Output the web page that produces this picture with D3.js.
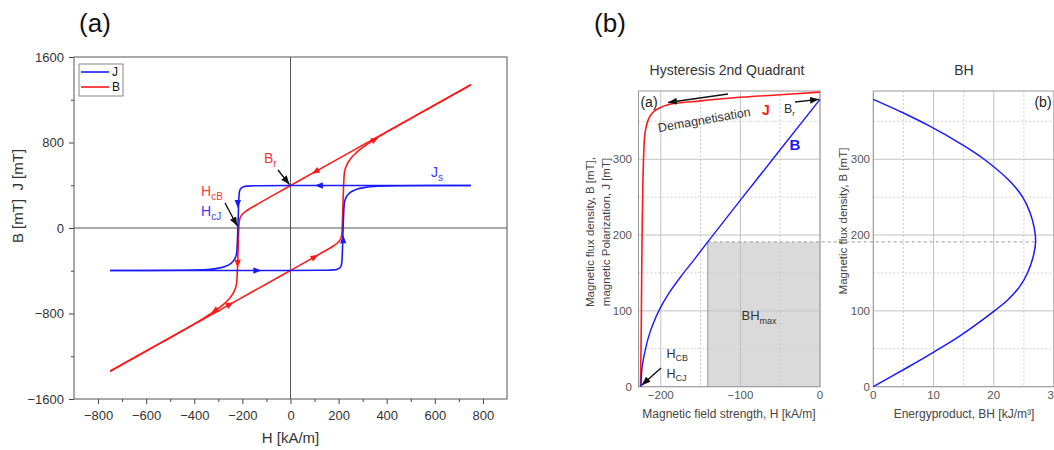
<!DOCTYPE html>
<html>
<head>
<meta charset="utf-8">
<script src="https://cdn.jsdelivr.net/npm/d3@7"></script>
<style>
  body { margin: 0; background: #fff; }
  text { font-family: Arial, "Liberation Sans", sans-serif; }
</style>
</head>
<body>
<svg id="chart" width="1054" height="450"></svg>
<script>
// ---------- data ----------
// (a) full loop, descending branch (H in kA/m, J and B in mT)
const hDown = [750, 300, 0, -150, -180, -195, -205, -211, -214, -216, -218, -220, -222, -224, -228, -235, -250, -275, -310, -360, -450, -600, -750];
const jDown = [398, 398, 397, 395, 392, 385, 372, 350, 305, 200, 50, -80, -180, -235, -270, -300, -335, -362, -380, -391, -396, -397, -398];
const bDown = [1340, 775, 397, 206, 166, 140, 114, 85, 36, -71, -224, -356, -459, -516, -556, -595, -649, -708, -769, -843, -961, -1151, -1340];
// ascending branch
const hUp = [-750, -300, 0, 150, 180, 195, 205, 211, 214, 216, 218, 220, 222, 224, 228, 235, 250, 275, 310, 360, 450, 600, 750];
const jUp = [-398, -398, -397, -395, -392, -385, -372, -350, -305, -200, -50, 80, 180, 235, 270, 300, 335, 362, 380, 391, 396, 397, 398];
const bUp = [-1340, -775, -397, -206, -166, -140, -114, -85, -36, 71, 224, 356, 459, 516, 556, 595, 649, 708, 769, 843, 961, 1151, 1340];

// direction arrows on the loop: [H, value, dH, dValue]
const jArrows = [[120, 398, -1, 0], [-219, 230, 0, -1], [-140, -398, 1, 0], [219, -110, 0, 1]];
const bArrows = [[105, 529, -1, -1.26], [350, 828, 1, 1.26], [-219.7, -330, 0, -1], [-315, -776, -1, -1.5], [-253, -715, 1, 1.26], [100, -271, 1, 1.26]];

const hTicks = [-800, -600, -400, -200, 0, 200, 400, 600, 800];
const hMinor = [-700, -500, -300, -100, 100, 300, 500, 700];
const bTicks = [-1600, -800, 0, 800, 1600];
const bMinor = [-1200, -400, 400, 1200];

// (b) 2nd quadrant
const hJ2 = [0, -50, -108, -150, -192, -209, -215, -219.6, -221.5, -223.5, -224.5, -225.5];
const j2 = [388.5, 385, 381, 377, 371.6, 362.8, 354, 336, 305, 200, 80, 0];
const hB2 = [0, -100, -141, -160, -175, -190, -202.5, -210, -215, -220, -223.4, -225];
const b2 = [379, 246, 191, 165, 145, 123, 100, 82, 67, 46, 26, 0];
const bhMax = { h: -141, b: 191, bh: 26.95 };

// (b) energy product
const bhB = [0, 26, 46, 66, 100, 115, 132, 150, 170, 191, 210, 230, 250, 270, 300, 320, 344, 361, 379];
const bhVal = [0, 5.8, 10.1, 14.2, 20.1, 22.4, 24.3, 25.6, 26.5, 26.95, 26.7, 26.0, 24.8, 22.8, 18.4, 14.6, 9.3, 5, 0];

const h2Ticks = [-200, -100, 0];
const h2Minor = [-150, -50];
const b2Ticks = [0, 100, 200, 300];
const b2Minor = [50, 150, 250, 350];
const bhTicks = [0, 10, 20, 30];
const bhMinor = [5, 15, 25];

const RED = "#ff1a1a";
const BLUE = "#1a1aff";
const fmt = d3.format("");

const svg = d3.select("#chart");

// arrow marker for annotation arrows
svg.append("defs").append("marker")
  .attr("id", "head")
  .attr("markerUnits", "userSpaceOnUse")
  .attr("markerWidth", 9).attr("markerHeight", 7)
  .attr("refX", 9).attr("refY", 3.5)
  .attr("orient", "auto")
  .append("path").attr("d", "M0,0 L9,3.5 L0,7 Z").attr("fill", "#111");

function annArrow(g, x1, y1, x2, y2) {
  g.append("line")
    .attr("x1", x1).attr("y1", y1).attr("x2", x2).attr("y2", y2)
    .attr("stroke", "#111").attr("stroke-width", 1.4)
    .attr("marker-end", "url(#head)");
}

// text with a subscript
function subText(g, x, y, main, sub, color, size, subSize) {
  const t = g.append("text").attr("x", x).attr("y", y)
    .attr("font-size", size).attr("fill", color);
  t.append("tspan").text(main);
  t.append("tspan").attr("dy", size * 0.3).attr("font-size", subSize).text(sub);
  return t;
}

// ================= (a) full hysteresis loop =================
const xL = d3.scaleLinear().domain([-900, 900]).range([74, 507]);
const yL = d3.scaleLinear().domain([-1600, 1600]).range([399, 57]);
const gL = svg.append("g");

gL.append("text").attr("x", 95).attr("y", 32)
  .attr("text-anchor", "middle").attr("font-size", 26).attr("fill", "#111").text("(a)");

// zero lines
gL.append("line").attr("x1", xL(0)).attr("x2", xL(0)).attr("y1", yL(1600)).attr("y2", yL(-1600))
  .attr("stroke", "#555");
gL.append("line").attr("x1", xL(-900)).attr("x2", xL(900)).attr("y1", yL(0)).attr("y2", yL(0))
  .attr("stroke", "#555");

// axes
gL.append("g").attr("transform", `translate(0,${yL(-1600)})`)
  .call(d3.axisBottom(xL).tickValues(hTicks).tickFormat(fmt).tickSize(5).tickPadding(7).tickSizeOuter(0));
gL.append("g").attr("transform", `translate(0,${yL(-1600)})`)
  .call(d3.axisBottom(xL).tickValues(hMinor).tickSize(3).tickFormat("").tickSizeOuter(0));
gL.append("g").attr("transform", `translate(${xL(-900)},0)`)
  .call(d3.axisLeft(yL).tickValues(bTicks).tickFormat(fmt).tickSize(5).tickPadding(5).tickSizeOuter(0));
gL.append("g").attr("transform", `translate(${xL(-900)},0)`)
  .call(d3.axisLeft(yL).tickValues(bMinor).tickSize(3).tickFormat("").tickSizeOuter(0));
gL.selectAll(".domain").remove();
gL.selectAll(".tick line").attr("stroke", "#444");
gL.selectAll(".tick text").attr("font-size", 13).attr("fill", "#333")
  .attr("font-family", "Arial, 'Liberation Sans', sans-serif");

// frame
gL.append("rect").attr("x", xL(-900)).attr("y", yL(1600))
  .attr("width", xL(900) - xL(-900)).attr("height", yL(-1600) - yL(1600))
  .attr("fill", "none").attr("stroke", "#555");

// axis titles
gL.append("text").attr("x", xL(0)).attr("y", 443).attr("text-anchor", "middle")
  .attr("font-size", 15).attr("fill", "#333").text("H [kA/m]");
gL.append("text").attr("transform", "translate(23,196) rotate(-90)").attr("text-anchor", "middle")
  .attr("font-size", 15).attr("fill", "#333").text("B [mT]\u00a0\u00a0J [mT]");

// curves
const lineL = (hs, vs) => d3.line().curve(d3.curveMonotoneX)
  .x((d, i) => xL(hs[i])).y((d, i) => yL(vs[i]))(hs);

[[hDown, bDown], [hUp, bUp]].forEach(([hs, vs]) => {
  gL.append("path").attr("d", lineL(hs, vs)).attr("fill", "none")
    .attr("stroke", RED).attr("stroke-width", 1.6);
});
[[hDown, jDown], [hUp, jUp]].forEach(([hs, vs]) => {
  gL.append("path").attr("d", lineL(hs, vs)).attr("fill", "none")
    .attr("stroke", BLUE).attr("stroke-width", 1.6);
});

// direction arrows
function loopArrows(list, color) {
  list.forEach(([h, v, dh, dv]) => {
    const ang = Math.atan2(yL(v + dv) - yL(v), xL(h + dh) - xL(h)) * 180 / Math.PI;
    gL.append("path").attr("d", "M4.5,0 L-3.5,-3.2 L-3.5,3.2 Z")
      .attr("transform", `translate(${xL(h)},${yL(v)}) rotate(${ang})`)
      .attr("fill", color);
  });
}
loopArrows(jArrows, BLUE);
loopArrows(bArrows, RED);

// legend
const leg = gL.append("g");
leg.append("rect").attr("x", 79).attr("y", 64).attr("width", 44).attr("height", 32)
  .attr("fill", "#fff").attr("stroke", "#888");
leg.append("line").attr("x1", 81).attr("x2", 109).attr("y1", 72).attr("y2", 72)
  .attr("stroke", BLUE).attr("stroke-width", 1.6);
leg.append("line").attr("x1", 81).attr("x2", 109).attr("y1", 87).attr("y2", 87)
  .attr("stroke", RED).attr("stroke-width", 1.6);
leg.append("text").attr("x", 112).attr("y", 76).attr("font-size", 12).attr("fill", "#111").text("J");
leg.append("text").attr("x", 112).attr("y", 91).attr("font-size", 12).attr("fill", "#111").text("B");

// annotations
subText(gL, 264, 163, "B", "r", "#ff3030", 14, 10);
annArrow(gL, 278, 170, xL(0) - 1, yL(397) - 1);
subText(gL, 201, 196, "H", "cB", "#ff3b3b", 14, 10);
subText(gL, 201, 216, "H", "cJ", "#3b3bff", 14, 10);
annArrow(gL, 225, 203, xL(-219) - 0.5, yL(0) - 2);
subText(gL, 431, 177, "J", "s", "#3b3bff", 14, 10);

// ================= (b) 2nd quadrant =================
const x2 = d3.scaleLinear().domain([-228, 0]).range([638.5, 820]);
const y2 = d3.scaleLinear().domain([0, 390]).range([386.7, 91]);
const x3 = d3.scaleLinear().domain([0, 30]).range([873.3, 1054]);
const gR = svg.append("g");

gR.append("text").attr("x", 610).attr("y", 32)
  .attr("text-anchor", "middle").attr("font-size", 26).attr("fill", "#111").text("(b)");

// BHmax rectangle
gR.append("rect").attr("x", x2(bhMax.h)).attr("y", y2(bhMax.b))
  .attr("width", x2(0) - x2(bhMax.h)).attr("height", y2(0) - y2(bhMax.b))
  .attr("fill", "#dadada");

function grid(g, xs, x, xMaj, xMin, y, yMaj, yMin) {
  const [x0, x1] = x.range();
  const [yb, yt] = y.range();
  xMin.forEach(v => g.append("line").attr("x1", x(v)).attr("x2", x(v)).attr("y1", yt).attr("y2", yb)
    .attr("stroke", "#cfcfcf").attr("stroke-dasharray", "2,2"));
  yMin.forEach(v => g.append("line").attr("x1", x0).attr("x2", x1).attr("y1", y(v)).attr("y2", y(v))
    .attr("stroke", "#cfcfcf").attr("stroke-dasharray", "2,2"));
  xMaj.forEach(v => g.append("line").attr("x1", x(v)).attr("x2", x(v)).attr("y1", yt).attr("y2", yb)
    .attr("stroke", "#c2c2c2"));
  yMaj.forEach(v => g.append("line").attr("x1", x0).attr("x2", x1).attr("y1", y(v)).attr("y2", y(v))
    .attr("stroke", "#c2c2c2"));
  g.append("rect").attr("x", x0).attr("y", yt).attr("width", x1 - x0).attr("height", yb - yt)
    .attr("fill", "none").attr("stroke", "#999");
  // tick labels
  xMaj.forEach(v => g.append("text").attr("x", x(v)).attr("y", 399).attr("text-anchor", "middle")
    .attr("font-size", 11.5).attr("fill", "#555").text(fmt(v)));
  yMaj.forEach(v => g.append("text").attr("x", xs).attr("y", y(v)).attr("dy", "0.35em")
    .attr("text-anchor", "end").attr("font-size", 11.5).attr("fill", "#555").text(v));
}
grid(gR, 632, x2, h2Ticks, h2Minor, y2, b2Ticks, b2Minor);
grid(gR, 870, x3, bhTicks, bhMinor, y2, b2Ticks, b2Minor);

// BHmax edges
gR.append("line").attr("x1", x2(bhMax.h)).attr("x2", x2(bhMax.h)).attr("y1", y2(bhMax.b)).attr("y2", y2(0))
  .attr("stroke", "#999");
gR.append("line").attr("x1", x2(bhMax.h)).attr("x2", x3(bhMax.bh)).attr("y1", y2(bhMax.b)).attr("y2", y2(bhMax.b))
  .attr("stroke", "#999").attr("stroke-dasharray", "3,3");

// curves
const smooth = d3.curveCatmullRom.alpha(0.5);
gR.append("path")
  .attr("d", d3.line().curve(smooth).x((d, i) => x2(hJ2[i])).y((d, i) => y2(j2[i]))(hJ2))
  .attr("fill", "none").attr("stroke", RED).attr("stroke-width", 1.6);
gR.append("path")
  .attr("d", d3.line().curve(smooth).x((d, i) => x2(hB2[i])).y((d, i) => y2(b2[i]))(hB2))
  .attr("fill", "none").attr("stroke", BLUE).attr("stroke-width", 1.4);
gR.append("path")
  .attr("d", d3.line().curve(smooth).x((d, i) => x3(bhVal[i])).y((d, i) => y2(bhB[i]))(bhB))
  .attr("fill", "none").attr("stroke", BLUE).attr("stroke-width", 1.5);

// titles
gR.append("text").attr("x", 727).attr("y", 75).attr("text-anchor", "middle")
  .attr("font-size", 14).attr("fill", "#333").text("Hysteresis 2nd Quadrant");
gR.append("text").attr("x", 964).attr("y", 75).attr("text-anchor", "middle")
  .attr("font-size", 14).attr("fill", "#333").text("BH");

// axis titles
gR.append("text").attr("x", 729).attr("y", 418).attr("text-anchor", "middle")
  .attr("font-size", 12).attr("fill", "#444").text("Magnetic field strength, H [kA/m]");
gR.append("text").attr("x", 964).attr("y", 418).attr("text-anchor", "middle")
  .attr("font-size", 12).attr("fill", "#444").text("Energyproduct, BH [kJ/m³]");
gR.append("text").attr("transform", "translate(594,232) rotate(-90)").attr("text-anchor", "middle")
  .attr("font-size", 11.5).attr("fill", "#444").text("Magnetic flux density, B [mT],");
gR.append("text").attr("transform", "translate(610,232) rotate(-90)").attr("text-anchor", "middle")
  .attr("font-size", 11.5).attr("fill", "#444").text("magnetic Polarization, J [mT]");
gR.append("text").attr("transform", "translate(847,221) rotate(-90)").attr("text-anchor", "middle")
  .attr("font-size", 11.5).attr("fill", "#444").text("Magnetic flux density, B [mT]");

// panel annotations
gR.append("text").attr("x", 649).attr("y", 107).attr("text-anchor", "middle")
  .attr("font-size", 14).attr("fill", "#222").text("(a)");
gR.append("text").attr("x", 1043).attr("y", 107).attr("text-anchor", "middle")
  .attr("font-size", 14).attr("fill", "#222").text("(b)");
gR.append("text").attr("transform", "translate(705,124) rotate(-10)").attr("text-anchor", "middle")
  .attr("font-size", 12.5).attr("fill", "#333").text("Demagnetisation");
annArrow(gR, 728, 94, 668, 102.5);
gR.append("text").attr("x", 766).attr("y", 114.5).attr("text-anchor", "middle")
  .attr("font-size", 14).attr("font-weight", "bold").attr("fill", RED).text("J");
subText(gR, 784, 112.5, "B", "r", "#333", 12.5, 8);
annArrow(gR, 795, 102, x2(0) - 1, y2(379));
gR.append("text").attr("x", 795).attr("y", 149.5).attr("text-anchor", "middle")
  .attr("font-size", 15).attr("font-weight", "bold").attr("fill", BLUE).text("B");
subText(gR, 741.5, 320, "BH", "max", "#333", 13, 9);
subText(gR, 666.5, 357.5, "H", "CB", "#333", 12.5, 9);
subText(gR, 666.5, 377.5, "H", "CJ", "#333", 12.5, 9);
annArrow(gR, 661, 368, x2(-224), y2(2));
</script>
</body>
</html>
